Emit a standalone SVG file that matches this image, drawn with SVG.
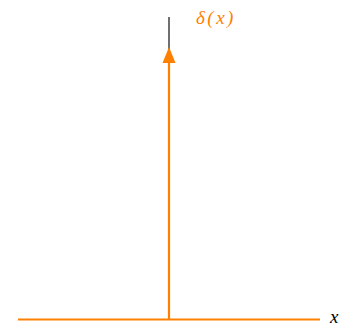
<svg xmlns="http://www.w3.org/2000/svg" width="344" height="326" viewBox="0 0 344 326">
<style>
.o{stroke:#ff8000;stroke-width:2.2;fill:none}
.lbl{font-family:"Liberation Serif",serif;font-style:italic;font-size:19px}
</style>
<rect width="344" height="326" fill="#fff"/>
<g id="connectors">
<line x1="169" y1="17" x2="169" y2="50" stroke="#222" stroke-width="1.3"/>
<line class="o" x1="18" y1="319.5" x2="320" y2="319.5"/>
<line class="o" x1="169" y1="319.5" x2="169" y2="60"/>
<polygon points="169,47 175.5,63 162.5,63" fill="#ff8000"/>
</g>
<g id="labels">
<text class="lbl" x="196" y="24" fill="#ff8000" letter-spacing="2.5">δ(x)</text>
<text class="lbl" x="330" y="322.5" fill="#000" font-size="18">x</text>
</g>
</svg>
